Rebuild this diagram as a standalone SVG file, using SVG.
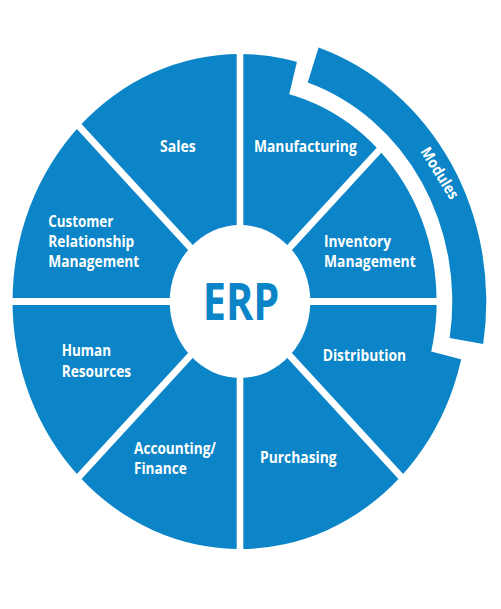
<svg xmlns="http://www.w3.org/2000/svg" width="501" height="609" viewBox="0 0 501 609">
<style>
.blue{fill:#0b85c7}
.gap{stroke:#fff;stroke-width:7.2;fill:none}
.lbl{font-family:"Open Sans","Noto Sans",sans-serif;font-weight:700;font-size:15.5px;fill:#fff}
.erp{font-family:"Open Sans","Noto Sans",sans-serif;font-weight:700;font-size:52px;fill:#0b85c7}
</style>
<rect width="501" height="609" fill="#fff"/>
<g id="wheel" transform="translate(240,301.5) scale(0.919,1)">
  <circle class="blue" r="247.5"/>
  <path fill="#fff" d="M53.58 -207.18 A214 214 0 0 1 208.09 49.95 L252.8 60.7 A260 260 0 0 0 65.1 -251.7 Z"/>
  <g id="connectors" class="gap">
    <line x1="0" y1="0" x2="0" y2="-252"/>
    <line x1="0" y1="0" x2="159" y2="-159"/>
    <line x1="0" y1="0" x2="225" y2="0"/>
    <line x1="0" y1="0" x2="178" y2="178"/>
    <line x1="0" y1="0" x2="0" y2="252"/>
    <line x1="0" y1="0" x2="-178" y2="178"/>
    <line x1="0" y1="0" x2="-252" y2="0"/>
    <line x1="0" y1="0" x2="-178" y2="-178"/>
  </g>
  <circle id="center" fill="#fff" r="76.5"/>
  <path id="modules-band" class="blue" d="M73.69 -218.94 A231 231 0 0 1 228.09 36.54 L264.62 42.40 A268 268 0 0 0 85.49 -254.01 Z"/>
</g>
<g id="n-erp"><text class="erp" x="202.7" y="320" textLength="76.6" lengthAdjust="spacingAndGlyphs">ERP</text></g>
<g id="n-sales"><text class="lbl" x="160" y="152" textLength="35.7" lengthAdjust="spacingAndGlyphs">Sales</text></g>
<g id="n-manufacturing"><text class="lbl" x="254" y="151.5" textLength="102.7" lengthAdjust="spacingAndGlyphs">Manufacturing</text></g>
<g id="n-crm">
  <text class="lbl" x="48.3" y="226.7" textLength="65" lengthAdjust="spacingAndGlyphs">Customer</text>
  <text class="lbl" x="48.3" y="246.7" textLength="86" lengthAdjust="spacingAndGlyphs">Relationship</text>
  <text class="lbl" x="48.3" y="267.3" textLength="91" lengthAdjust="spacingAndGlyphs">Management</text>
</g>
<g id="n-inventory">
  <text class="lbl" x="324" y="246.7" textLength="67" lengthAdjust="spacingAndGlyphs">Inventory</text>
  <text class="lbl" x="324" y="267.3" textLength="91.7" lengthAdjust="spacingAndGlyphs">Management</text>
</g>
<g id="n-hr">
  <text class="lbl" x="61.7" y="356" textLength="49.3" lengthAdjust="spacingAndGlyphs">Human</text>
  <text class="lbl" x="61.7" y="376.7" textLength="69.3" lengthAdjust="spacingAndGlyphs">Resources</text>
</g>
<g id="n-accounting">
  <text class="lbl" x="134" y="454.3" textLength="82" lengthAdjust="spacingAndGlyphs">Accounting/</text>
  <text class="lbl" x="134" y="474.3" textLength="52.7" lengthAdjust="spacingAndGlyphs">Finance</text>
</g>
<g id="n-distribution"><text class="lbl" x="322.7" y="361" textLength="83.3" lengthAdjust="spacingAndGlyphs">Distribution</text></g>
<g id="n-purchasing"><text class="lbl" x="260" y="462.7" textLength="76.7" lengthAdjust="spacingAndGlyphs">Purchasing</text></g>
<g id="n-modules"><text class="lbl" transform="translate(440,173) rotate(58)" x="0" y="5.5" text-anchor="middle" textLength="58" lengthAdjust="spacingAndGlyphs">Modules</text></g>
</svg>
